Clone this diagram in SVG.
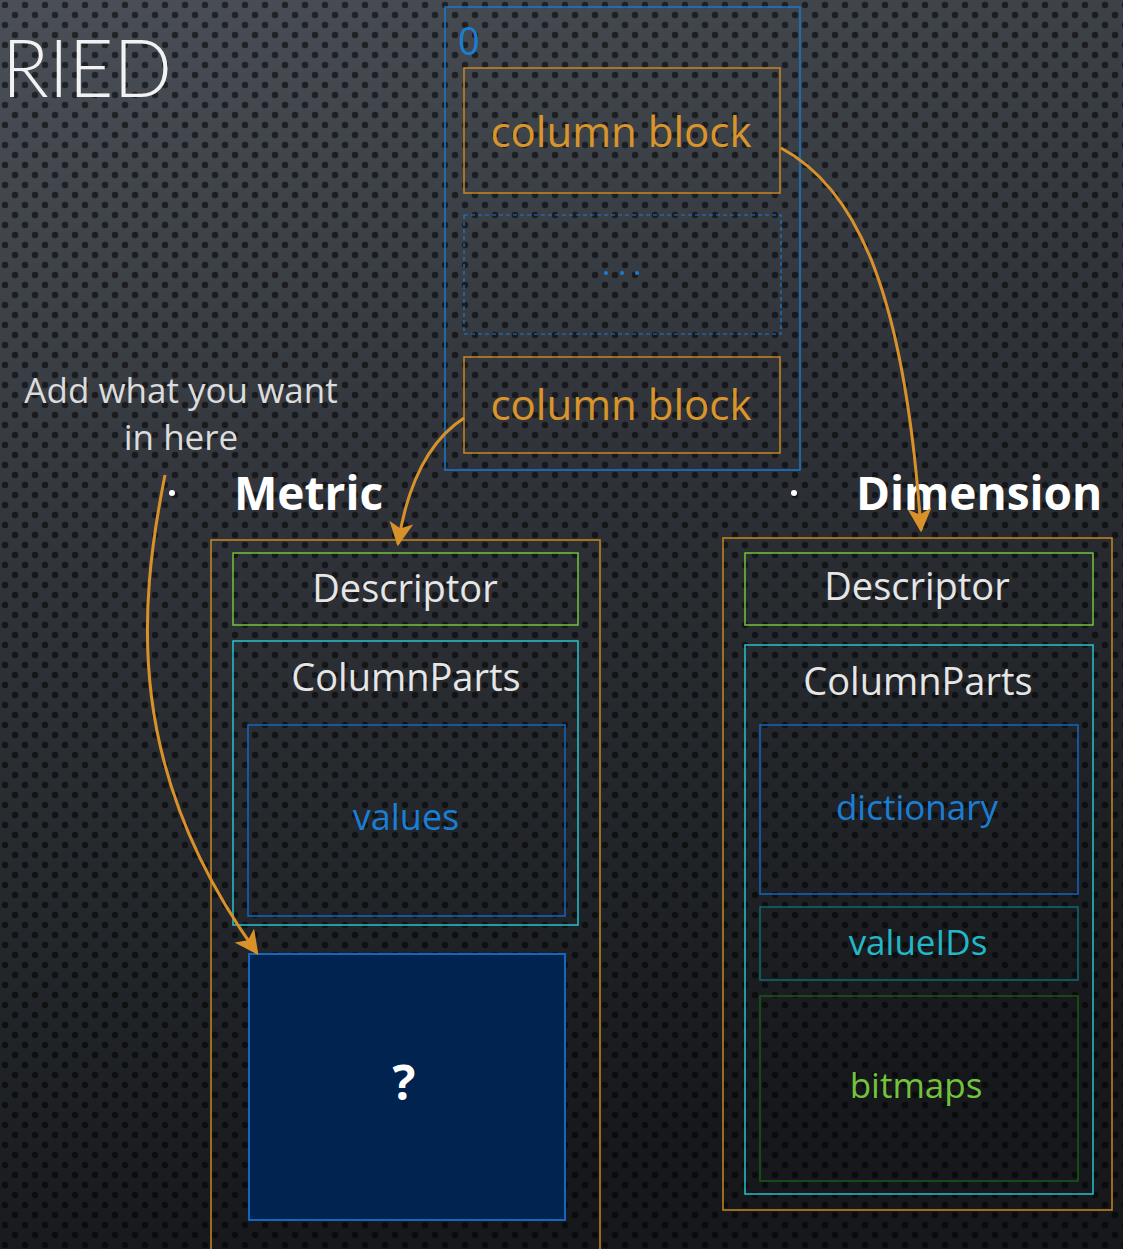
<svg xmlns="http://www.w3.org/2000/svg" width="1123" height="1249" viewBox="0 0 1123 1249">
<defs>
  <linearGradient id="bg" x1="0" y1="0" x2="0.25" y2="1">
    <stop offset="0" stop-color="#4b5058"/>
    <stop offset="0.45" stop-color="#30343a"/>
    <stop offset="1" stop-color="#16181b"/>
  </linearGradient>
  <pattern id="dots" width="20" height="20" patternUnits="userSpaceOnUse">
    <circle cx="5" cy="5" r="3.2" fill="#000" fill-opacity="0.55"/>
    <circle cx="15" cy="15" r="3.2" fill="#000" fill-opacity="0.55"/>
  </pattern>
  <marker id="arr" viewBox="0 0 10 10" refX="9" refY="5" markerWidth="8" markerHeight="8" markerUnits="strokeWidth" orient="auto">
    <path d="M0,0 L10,5 L0,10 L2.5,5 Z" fill="#d9922a"/>
  </marker>
  <style>
    .t{font-family:"Open Sans","Noto Sans","Liberation Sans",sans-serif;text-anchor:middle}
    .cb{fill:none;stroke:#c9871f;stroke-width:1.5}
    .cbt{fill:#d9952a;font-size:42px}
    .outer{fill:none;stroke:#c9871f;stroke-width:1.5}
    .desc{fill:none;stroke:#74c33c;stroke-width:1.5}
    .cp{fill:none;stroke:#27c2d0;stroke-width:1.5}
    .lbl{fill:#e6e6e6;font-size:38px}
    .head{fill:#ffffff;font-size:46px;font-weight:bold;font-family:"Open Sans","Noto Sans","Liberation Sans",sans-serif}
    .conn{fill:none;stroke:#d9922a;stroke-width:3}
  </style>
</defs>
<rect width="1123" height="1249" fill="url(#bg)"/>
<rect width="1123" height="1249" fill="url(#dots)"/>

<text x="2" y="97" font-family="Lato,'Liberation Sans',sans-serif" font-weight="300" font-size="80" fill="#f2f2f2" textLength="170" lengthAdjust="spacingAndGlyphs">RIED</text>

<g id="segment">
  <rect x="445" y="7" width="355" height="463" fill="none" stroke="#1a78d0" stroke-width="1.5"/>
  <text x="458" y="55" font-family="'Open Sans','Noto Sans',sans-serif" font-size="38" fill="#1a7fd4">0</text>
</g>
<g id="block1">
  <rect class="cb" x="464" y="68" width="316" height="125"/>
  <text class="t cbt" x="621" y="147">column block</text>
</g>
<g id="ellipsis">
  <rect x="464" y="215" width="317" height="119" fill="none" stroke="#1a78d0" stroke-width="1.2" stroke-dasharray="4,3"/>
  <circle cx="606" cy="273" r="2" fill="#1a7fd4"/>
  <circle cx="622" cy="273" r="2" fill="#1a7fd4"/>
  <circle cx="637" cy="273" r="2" fill="#1a7fd4"/>
</g>
<g id="block2">
  <rect class="cb" x="464" y="357" width="316" height="96"/>
  <text class="t cbt" x="621" y="420">column block</text>
</g>

<g id="note">
  <text class="t" x="181" y="403" font-size="35" fill="#dcdcdc">Add what you want</text>
  <text class="t" x="181" y="450" font-size="35" fill="#dcdcdc">in here</text>
</g>

<g id="metric">
  <circle cx="172" cy="493" r="3" fill="#fff"/>
  <text class="head" x="234" y="510">Metric</text>
  <rect class="outer" x="211" y="540" width="389" height="720"/>
  <rect class="desc" x="233" y="553" width="345" height="72"/>
  <text class="t lbl" x="405" y="602">Descriptor</text>
  <rect class="cp" x="233" y="641" width="345" height="284"/>
  <text class="t lbl" x="406" y="691">ColumnParts</text>
  <rect x="248" y="725" width="317" height="191" fill="none" stroke="#1466c0" stroke-width="1.5"/>
  <text class="t" x="406" y="830" font-size="36" fill="#1a7fd4">values</text>
  <rect x="249" y="954" width="316" height="266" fill="#002350" stroke="#1466c0" stroke-width="2"/>
  <text class="t" x="404" y="1100" font-size="48" font-weight="bold" fill="#ffffff">?</text>
</g>

<g id="dimension">
  <circle cx="794" cy="493" r="3" fill="#fff"/>
  <text class="head" x="856" y="510">Dimension</text>
  <rect class="outer" x="723" y="538" width="389" height="672"/>
  <rect class="desc" x="745" y="553" width="348" height="72"/>
  <text class="t lbl" x="917" y="600">Descriptor</text>
  <rect class="cp" x="745" y="645" width="348" height="549"/>
  <text class="t lbl" x="918" y="695">ColumnParts</text>
  <rect x="760" y="725" width="318" height="169" fill="none" stroke="#1466c0" stroke-width="1.5"/>
  <text class="t" x="917" y="820" font-size="35" fill="#1a7fd4">dictionary</text>
  <rect x="760" y="907" width="318" height="73" fill="none" stroke="#0e6a70" stroke-width="1.5"/>
  <text class="t" x="918" y="955" font-size="35" fill="#22b8c8">valueIDs</text>
  <rect x="760" y="996" width="318" height="185" fill="none" stroke="#1a5a1a" stroke-width="1.5"/>
  <text class="t" x="916" y="1098" font-size="35" fill="#74c33c">bitmaps</text>
</g>

<g id="connectors">
  <path class="conn" d="M781,148 C860,190 905,300 921,530" marker-end="url(#arr)"/>
  <path class="conn" d="M464,418 C430,440 408,480 398,544" marker-end="url(#arr)"/>
  <path class="conn" d="M165,475 C138,610 125,770 257,953" marker-end="url(#arr)"/>
</g>
</svg>
